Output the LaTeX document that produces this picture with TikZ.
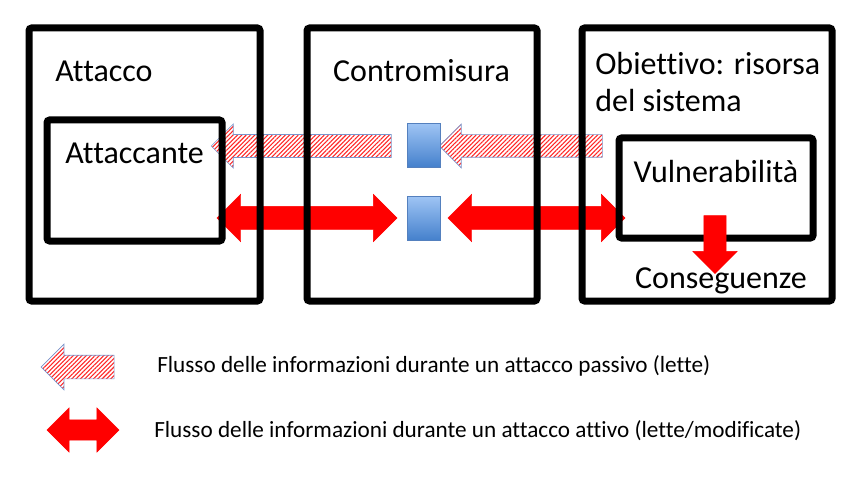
\documentclass[tikz,border=0pt]{standalone}
\usepackage{fontspec}
\setmainfont{Carlito}[Ligatures={NoCommon}]
\usetikzlibrary{shapes.arrows,patterns.meta}
\definecolor{guardtop}{RGB}{158,196,244}
\definecolor{guardbottom}{RGB}{68,128,204}
\definecolor{guardline}{RGB}{84,128,190}
\definecolor{passiveline}{RGB}{120,150,205}

\begin{document}
\begin{tikzpicture}[x=0.75pt, y=-0.75pt,
    box/.style={
        rectangle,
        draw,
        line width=5.25pt,
        rounded corners=2pt,
        inner sep=0pt
    },
    txt/.style={font=\fontsize{24}{29}\selectfont, inner sep=0pt, anchor=base west},
    legendtxt/.style={font=\fontsize{17.4}{21}\selectfont, inner sep=0pt, anchor=base west},
    guard/.style={
        rectangle,
        draw=guardline,
        line width=0.6pt,
        top color=guardtop,
        bottom color=guardbottom,
        minimum width=24.75pt,
        minimum height=33pt,
        inner sep=0pt
    },
    passive/.style={
        single arrow,
        single arrow head extend=7.875pt,
        shape border rotate=180,
        inner xsep=0pt,
        inner ysep=8.25pt,
        draw=passiveline,
        line width=0.5pt,
        preaction={fill=white},
        pattern={Lines[angle=45, distance=2.3pt, line width=0.8pt]},
        pattern color=red!85
    },
    active/.style={
        double arrow,
        double arrow head extend=9pt,
        inner xsep=0pt,
        inner ysep=8.625pt,
        fill=red,
        draw=red,
        line width=0.3pt
    }
]
    \useasboundingbox (0,0) rectangle (863,481);

    % flows
    \node (leggi_1) [passive, minimum height=135pt] at (307,146) {};
    \node (leggi_2) [passive, minimum height=122.25pt] at (526.5,146) {};
    \node (modifica_1) [active, minimum height=135pt] at (307,218) {};
    \node (modifica_2) [active, minimum height=132.75pt] at (536.5,218) {};

    % boxes
    \node (attacco) [box, minimum width=173.25pt, minimum height=204.75pt] at (144.5,164.5) {};
    \node (contromisura) [box, minimum width=172.5pt, minimum height=204.75pt] at (422,164.5) {};
    \node (obiettivo) [box, minimum width=187.5pt, minimum height=204.75pt] at (707,164.5) {};
    \node (attaccante) [box, minimum width=131.25pt, minimum height=90.75pt] at (134.5,180.5) {};
    \node (vulnerabilita) [box, minimum width=145.5pt, minimum height=75pt] at (716,188) {};

    \node (guard_1) [guard] at (423.5,145.5) {};
    \node (guard_2) [guard] at (423.5,218.5) {};

    \node (effetto) [single arrow, single arrow head extend=8.25pt, shape border rotate=270,
        minimum height=43.5pt, inner xsep=8.25pt, inner ysep=0pt, fill=red, draw=red,
        line width=0.3pt] at (715,239) {};

    % texts
    \node (attacco_txt) [txt] at (55,82) {Attacco};
    \node (contromisura_txt) [txt, anchor=base] at (421.5,82) {Contromisura};
    \node (obiettivo_txt) [txt] at (595,75) {Obiettivo: risorsa};
    \node (sistema_txt) [txt] at (595,112) {del sistema};
    \node (attaccante_txt) [txt] at (65,163) {Attaccante};
    \node (vulnerabilita_txt) [txt, anchor=base] at (716,182) {Vulnerabilità};
    \node (conseguenze_txt) [txt, anchor=base] at (721,288) {Conseguenze};

    % legend
    \node (legenda_passivo) [passive, single arrow head extend=8.25pt, inner ysep=8.625pt,
        minimum height=54.75pt] at (83.5,367) {};
    \node (legenda_attivo) [active, inner ysep=7.5pt, minimum height=54pt] at (83,430) {};
    \node (passivo_txt) [legendtxt] at (157,372)
    {
        Flusso delle informazioni durante un attacco passivo (lette)
    };
    \node (attivo_txt) [legendtxt] at (154,437)
    {
        Flusso delle informazioni durante un attacco attivo (lette/modificate)
    };
\end{tikzpicture}
\end{document}
